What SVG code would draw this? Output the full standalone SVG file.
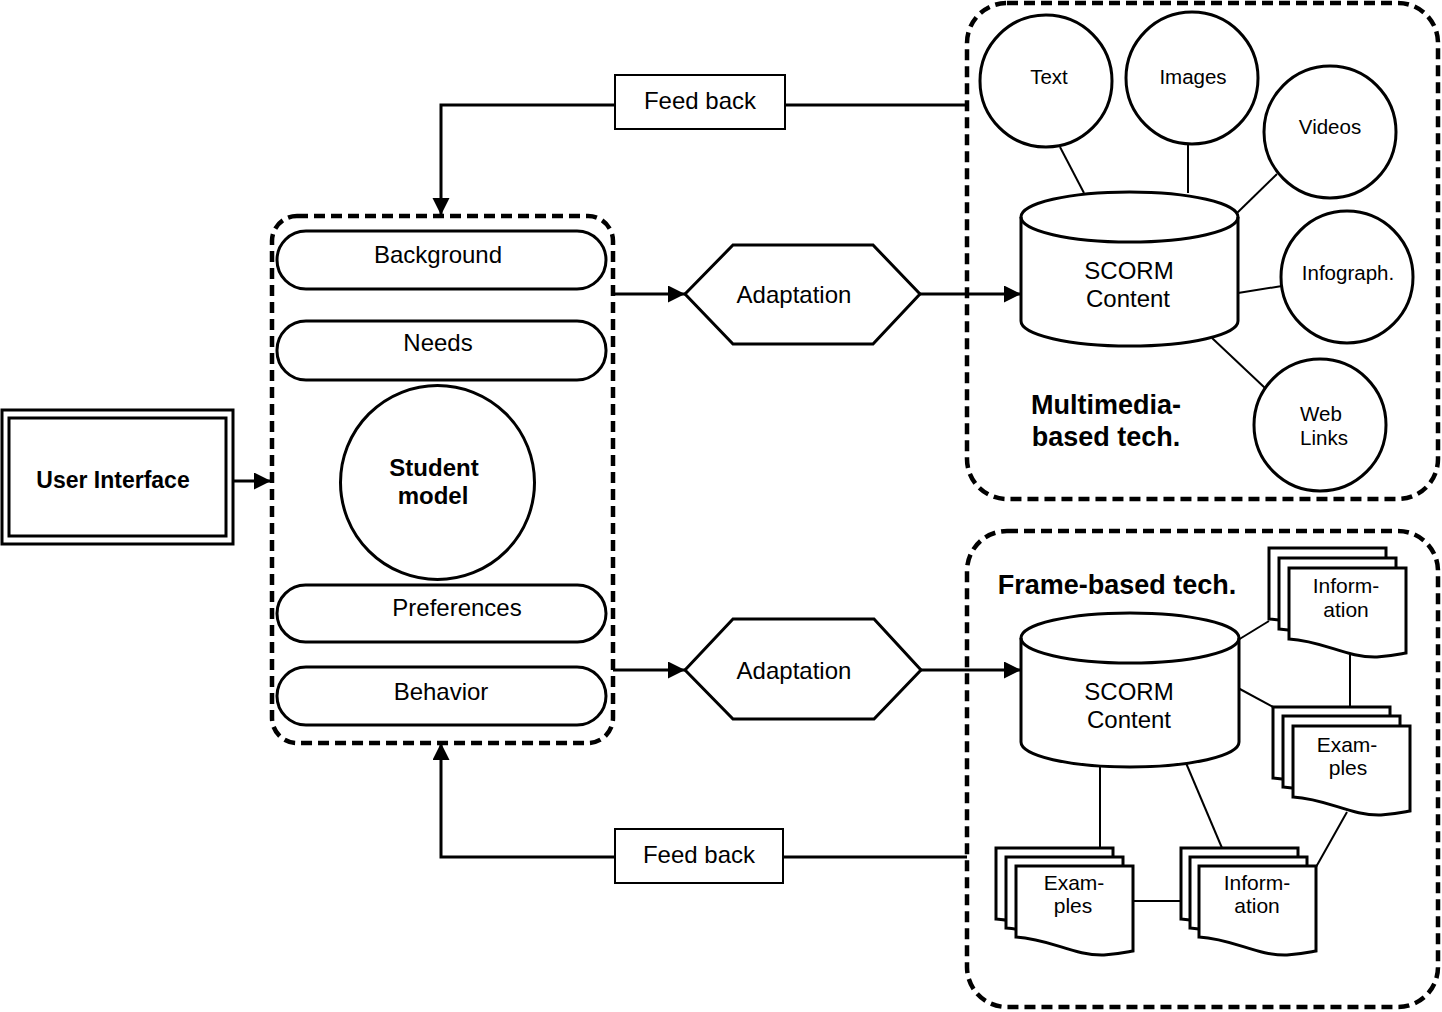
<svg xmlns="http://www.w3.org/2000/svg" xmlns:xlink="http://www.w3.org/1999/xlink" width="1442" height="1012" viewBox="0 0 1442 1012">
<style>
text{font-family:"Liberation Sans",Arial,sans-serif;fill:#000;text-anchor:middle}
.t24{font-size:24px}
.t21{font-size:21px}
.t20{font-size:20.5px}
.b23{font-size:23px;font-weight:bold}
.b24{font-size:24px;font-weight:bold}
.b27{font-size:27px;font-weight:bold}
.shape{fill:#fff;stroke:#000;stroke-width:3}
.thin{fill:#fff;stroke:#000;stroke-width:2}
.dash{fill:none;stroke:#000;stroke-width:4.5;stroke-dasharray:11 6}
.con{fill:none;stroke:#000;stroke-width:2}
.arr{fill:none;stroke:#000;stroke-width:3}
</style>
<defs>
<marker id="ah" markerWidth="18" markerHeight="18" refX="17" refY="8.5" orient="auto" markerUnits="userSpaceOnUse">
<path d="M0,0 L17,8.5 L0,17 Z" fill="#000"/>
</marker>
<path id="doc" class="shape" d="M0,0 H117 V85 C111,86 103,88 88,89 C58,90 35,73 0,71 Z"/>
</defs>
<rect width="1442" height="1012" fill="#fff"/>

<g id="section-multimedia">
<rect class="dash" x="967" y="3" width="471" height="496" rx="40"/>
<text class="b27" x="1106" y="414">Multimedia-</text>
<text class="b27" x="1106" y="446">based tech.</text>
</g>
<g id="section-frame">
<rect class="dash" x="967" y="531" width="471" height="476" rx="40"/>
<text class="b27" x="1117" y="594">Frame-based tech.</text>
</g>

<g id="connectors">
<path class="arr" d="M234,481 H271" marker-end="url(#ah)"/>
<path class="arr" d="M967,105 H785"/>
<path class="arr" d="M615,105 H441 V215" marker-end="url(#ah)"/>
<path class="arr" d="M967,857 H783"/>
<path class="arr" d="M615,857 H441 V743" marker-end="url(#ah)"/>
<path class="arr" d="M613,294 H685" marker-end="url(#ah)"/>
<path class="arr" d="M920,294 H1021" marker-end="url(#ah)"/>
<path class="arr" d="M613,670 H685" marker-end="url(#ah)"/>
<path class="arr" d="M921,670 H1021" marker-end="url(#ah)"/>
<path class="con" d="M1060,147 L1084,193"/>
<path class="con" d="M1188,144 V193"/>
<path class="con" d="M1277,174 L1237,213"/>
<path class="con" d="M1282,286 L1238,293"/>
<path class="con" d="M1265,388 L1212,338"/>
<path class="con" d="M1238,640 L1269,621"/>
<path class="con" d="M1238,688 L1273,707"/>
<path class="con" d="M1350,655 V707"/>
<path class="con" d="M1347,812 L1316,867"/>
<path class="con" d="M1100,766 V848"/>
<path class="con" d="M1186,763 L1222,848"/>
<path class="con" d="M1134,901 H1181"/>
</g>

<g id="user-interface">
<rect x="2" y="410" width="231" height="134" fill="#fff" stroke="#000" stroke-width="3"/>
<rect x="9" y="418" width="217" height="118" fill="none" stroke="#000" stroke-width="3"/>
<text class="b23" x="113" y="488">User Interface</text>
</g>

<g id="student-model-group">
<rect class="dash" x="272" y="216" width="341" height="527" rx="25"/>
</g>
<g id="background">
<rect class="shape" x="277" y="231" width="329" height="58" rx="29"/>
<text class="t24" x="438" y="263">Background</text>
</g>
<g id="needs">
<rect class="shape" x="277" y="321" width="329" height="59" rx="29"/>
<text class="t24" x="438" y="351">Needs</text>
</g>
<g id="student-model">
<circle class="shape" cx="437.5" cy="482.5" r="97"/>
<text class="b24" x="434" y="476">Student</text>
<text class="b24" x="433" y="504">model</text>
</g>
<g id="preferences">
<rect class="shape" x="277" y="585" width="329" height="57" rx="28.5"/>
<text class="t24" x="457" y="616">Preferences</text>
</g>
<g id="behavior">
<rect class="shape" x="277" y="667" width="329" height="58" rx="29"/>
<text class="t24" x="441" y="700">Behavior</text>
</g>

<g id="feedback-top">
<rect class="thin" x="615" y="75" width="170" height="54"/>
<text class="t24" x="700" y="109">Feed back</text>
</g>
<g id="feedback-bottom">
<rect class="thin" x="615" y="829" width="168" height="54"/>
<text class="t24" x="699" y="863">Feed back</text>
</g>

<g id="adaptation-top">
<polygon class="shape" points="685,294 733,245 873,245 920,294 873,344 733,344"/>
<text class="t24" x="794" y="303">Adaptation</text>
</g>
<g id="adaptation-bottom">
<polygon class="shape" points="685,670 733,619 874,619 921,670 874,719 733,719"/>
<text class="t24" x="794" y="679">Adaptation</text>
</g>

<g id="scorm-top">
<path class="shape" d="M1021,217 A108.5,25 0 0 1 1238,217 V321 A108.5,25 0 0 1 1021,321 Z"/>
<path fill="none" stroke="#000" stroke-width="3" d="M1021,217 A108.5,25 0 0 0 1238,217"/>
<text class="t24" x="1129" y="279">SCORM</text>
<text class="t24" x="1128" y="307">Content</text>
</g>
<g id="scorm-bottom">
<path class="shape" d="M1021,638 A109,25 0 0 1 1239,638 V742 A109,25 0 0 1 1021,742 Z"/>
<path fill="none" stroke="#000" stroke-width="3" d="M1021,638 A109,25 0 0 0 1239,638"/>
<text class="t24" x="1129" y="700">SCORM</text>
<text class="t24" x="1129" y="728">Content</text>
</g>

<g id="text-circle">
<circle class="shape" cx="1046" cy="81" r="66"/>
<text class="t20" x="1049" y="84">Text</text>
</g>
<g id="images-circle">
<circle class="shape" cx="1192" cy="78" r="66"/>
<text class="t20" x="1193" y="84">Images</text>
</g>
<g id="videos-circle">
<circle class="shape" cx="1330" cy="132" r="66"/>
<text class="t20" x="1330" y="134">Videos</text>
</g>
<g id="infograph-circle">
<circle class="shape" cx="1347" cy="277" r="66"/>
<text class="t20" x="1348" y="280">Infograph.</text>
</g>
<g id="weblinks-circle">
<circle class="shape" cx="1320" cy="425" r="66"/>
<text class="t20" x="1321" y="421">Web</text>
<text class="t20" x="1324" y="445">Links</text>
</g>

<g id="info-stack-top">
<use xlink:href="#doc" x="1269" y="548"/>
<use xlink:href="#doc" x="1279" y="558"/>
<use xlink:href="#doc" x="1289" y="568"/>
<text class="t21" x="1346" y="593">Inform-</text>
<text class="t21" x="1346" y="617">ation</text>
</g>
<g id="examples-stack-right">
<use xlink:href="#doc" x="1273" y="707"/>
<use xlink:href="#doc" x="1283" y="716"/>
<use xlink:href="#doc" x="1293" y="726"/>
<text class="t21" x="1347" y="752">Exam-</text>
<text class="t21" x="1348" y="775">ples</text>
</g>
<g id="examples-stack-bottom">
<use xlink:href="#doc" x="996" y="848"/>
<use xlink:href="#doc" x="1006" y="857"/>
<use xlink:href="#doc" x="1016" y="866"/>
<text class="t21" x="1074" y="890">Exam-</text>
<text class="t21" x="1073" y="913">ples</text>
</g>
<g id="info-stack-bottom">
<use xlink:href="#doc" x="1181" y="848"/>
<use xlink:href="#doc" x="1190" y="857"/>
<use xlink:href="#doc" x="1199" y="866"/>
<text class="t21" x="1257" y="890">Inform-</text>
<text class="t21" x="1257" y="913">ation</text>
</g>
</svg>
